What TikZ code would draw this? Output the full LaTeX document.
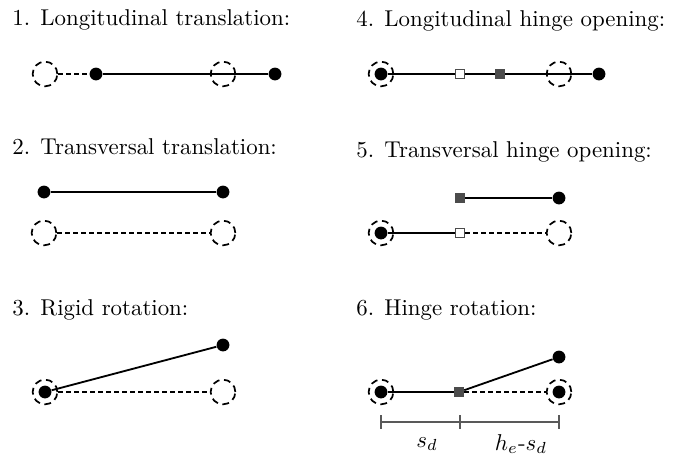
\documentclass[tikz,border=0pt]{standalone}
\usepackage{amsmath,amssymb}
\usepackage{tikz}
\usetikzlibrary{backgrounds,arrows.meta}

\begin{document}
\begin{tikzpicture}[x=0.437pt, y=-0.437pt]
  \tikzstyle{joint}=[circle, fill=black, inner sep=0pt, minimum size=5.6pt]
  \tikzstyle{ghost}=[circle, draw, densely dashed, line width=0.75pt, fill=none, inner sep=0pt, minimum size=10.8pt]
  \tikzstyle{hinge}=[rectangle, fill=black!70, inner sep=0pt, minimum size=4.2pt]
  \tikzstyle{hingeold}=[rectangle, draw=black!70, fill=white, line width=0.6pt, inner sep=0pt, minimum size=3.8pt]
  \tikzstyle{bar}=[line width=0.8pt]
  \tikzstyle{dashbar}=[line width=0.75pt, dash pattern=on 2.2pt off 1.3pt]
  \tikzstyle{title}=[anchor=base west, inner sep=0pt]

  \useasboundingbox (0,0) rectangle (679,456);

  % titles
  \node (t1) [title] at (12,25) {1. Longitudinal translation:};
  \node (t2) [title] at (12,154) {2. Transversal translation:};
  \node (t3) [title] at (12,315) {3. Rigid rotation:};
  \node (t4) [title] at (356,26) {4. Longitudinal hinge opening:};
  \node (t5) [title] at (356,157) {5. Transversal hinge opening:};
  \node (t6) [title] at (356,315) {6. Hinge rotation:};

  % 1
  \node (g1a) [ghost] at (45,74) {};
  \node (j1a) [joint] at (96,74) {};
  \node (g1b) [ghost] at (223,74) {};
  \node (j1b) [joint] at (275,74) {};
  \draw[dashbar] (g1a) -- (j1a);
  \draw[bar] (j1a) -- (j1b);

  % 2
  \node (j2a) [joint] at (44,192) {};
  \node (j2b) [joint] at (223,192) {};
  \node (g2a) [ghost] at (44,233) {};
  \node (g2b) [ghost] at (223,233) {};
  \draw[bar] (j2a) -- (j2b);
  \draw[dashbar] (g2a) -- (g2b);

  % 3
  \node (g3a) [ghost] at (45,392) {};
  \node (j3a) [joint] at (45,392) {};
  \node (g3b) [ghost] at (223,392) {};
  \node (j3b) [joint] at (223,345) {};
  \draw[dashbar] (g3a) -- (g3b);
  \draw[bar] (j3a) -- (j3b);

  % 4
  \node (g4a) [ghost] at (381,74) {};
  \node (j4a) [joint] at (381,74) {};
  \node (g4b) [ghost] at (559,74) {};
  \node (j4b) [joint] at (599,74) {};
  \begin{scope}[on background layer]
    \draw[bar] (j4a) -- (j4b);
  \end{scope}
  \node (h4a) [hingeold] at (460,74) {};
  \node (h4b) [hinge] at (500,74) {};

  % 5
  \node (h5b) [hinge] at (460,198) {};
  \node (j5b) [joint] at (559,198) {};
  \node (g5a) [ghost] at (381,233) {};
  \node (j5a) [joint] at (381,233) {};
  \node (h5a) [hingeold] at (460,233) {};
  \node (g5b) [ghost] at (559,233) {};
  \draw[bar] (h5b) -- (j5b);
  \draw[bar] (j5a) -- (h5a);
  \draw[dashbar] (h5a) -- (g5b);

  % 6
  \node (g6a) [ghost] at (381,392) {};
  \node (j6a) [joint] at (381,392) {};
  \node (h6) [hinge] at (459,392) {};
  \node (g6b) [ghost] at (559,392) {};
  \node (j6c) [joint] at (559,392) {};
  \node (j6b) [joint] at (559,357) {};
  \draw[bar] (j6a) -- (h6);
  \draw[bar] (h6) -- (j6b);
  \draw[dashbar] (h6) -- (g6b);

  % lengths
  \coordinate (m0) at (381,422);
  \coordinate (m1) at (460,422);
  \coordinate (m2) at (559,422);
  \draw[black!65, line width=0.6pt] (m0) -- (m2);
  \foreach \m in {m0,m1,m2}
    \draw[black!65, line width=0.6pt] ([yshift=3pt]\m) -- ([yshift=-3pt]\m);
  \node (sd) at (427,444) {$s_d$};
  \node (hs) at (521,444) {$h_e$-$s_d$};
\end{tikzpicture}
\end{document}
